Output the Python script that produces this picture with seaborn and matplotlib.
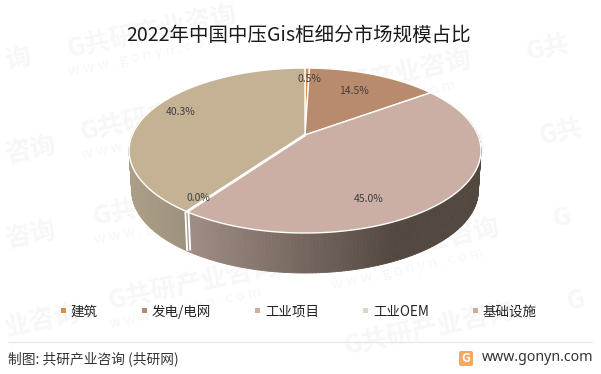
import numpy as np
import matplotlib
matplotlib.use('Agg')
import matplotlib.pyplot as plt
from matplotlib.collections import PolyCollection
from matplotlib.patches import FancyBboxPatch, Patch, Polygon
from matplotlib.colors import to_rgb
import seaborn as sns

title = '2022年中国中压Gis柜细分市场规模占比'
categories = ['建筑', '发电/电网', '工业项目', '工业OEM', '基础设施']
shares = [0.5, 14.5, 45.0, 0.0, 40.3]
slice_colors = ['#d58f4e', '#b98b6d', '#cbafa4', '#ddd5c8', '#c5b295']

# label placement in picture pixels, labels are hand placed in the original
label_x = [309, 353.5, 368.5, 198, 181]
label_y = [79, 91, 199, 198, 112]

# watermark pieces: x, y of the left end, visible part of the text, with web line or not
marks = [(67, 50, 'G共研产业咨询', True), (80, 133, 'G共研产业咨询', True),
         (93, 218, 'G共研产业咨询', True), (108, 302, 'G共研产业咨询', True),
         (302, 95, 'G共研产业咨询', True), (316, 179, 'G共研产业咨询', True),
         (330, 263, 'G共研产业咨询', True), (344, 347, 'G共研产业咨询', False),
         (527, 53, 'G共', False), (540, 137, 'G共', False),
         (553, 220, 'G', False), (567, 303, 'G', False),
         (5, 62, '询', False), (5, 156, '咨询', False), (5, 241, '咨询', False),
         (5, 329, '业咨询', False)]

sns.set_theme(style='white')
plt.rcParams['font.family'] = ['Noto Sans CJK SC', 'DejaVu Sans']

fig = plt.figure(figsize=(6.01, 3.74), dpi=100)
ax = fig.add_axes([0, 0, 1, 1])

# the pie gives the slice angles, it is redrawn below with perspective
palette = sns.color_palette(slice_colors)
wedges, _ = ax.pie(shares, startangle=90, counterclock=False, colors=palette)
angles = [(w.theta1, w.theta2) for w in wedges]
for w in wedges:
    w.remove()
ax.set_aspect('auto')
ax.set_xlim(0, 601)
ax.set_ylim(374, 0)
ax.axis('off')


def project(deg, r=1.0, drop=0.0, shrink=1.0):
    # unit circle to picture pixels, the far side is squeezed
    t = np.radians(deg)
    X = r * np.cos(t)
    Y = r * np.sin(t)
    d = 1 + 0.188 * Y
    return 305 + shrink * 172.8 * X / d, (135 - 54.2 * Y) / d + drop


def mix(c1, c2, f):
    c1, c2 = np.array(to_rgb(c1)), np.array(to_rgb(c2))
    return tuple(c1 + (c2 - c1) * np.clip(f, 0, 1))


# watermark
for x0, y0, txt, web in marks:
    ax.text(x0, y0, txt, fontsize=18.5, fontweight='bold', color='#f7f7f7', rotation=12,
            ha='left', va='center', rotation_mode='anchor', zorder=0)
    if web:
        ax.text(x0 + 2, y0 + 22, 'w w w . g o n y n . c o m', fontsize=10.5, color='#f7f7f7',
                rotation=12, ha='left', va='center', rotation_mode='anchor', zorder=0)

# side wall, colour runs along x inside each visible slice
side_drop = 40
low = 0.985
split = angles[3][0]
quads, quad_colors = [], []
for a in np.arange(15, -205, -1.0):
    x1, y1 = project(a)
    x2, y2 = project(a - 1)
    x3, y3 = project(a - 1, drop=side_drop, shrink=low)
    x4, y4 = project(a, drop=side_drop, shrink=low)
    quads.append([(x1, y1), (x2, y2), (x3, y3), (x4, y4)])
    xm = (x1 + x2) / 2
    if a > split:
        quad_colors.append(mix('#a08d85', '#524840', (xm - 190) / 205))
    else:
        quad_colors.append(mix('#ac9f87', '#9e917c', (xm - 129) / 58))
ax.add_collection(PolyCollection(quads, facecolors=quad_colors, edgecolors=quad_colors,
                                 linewidths=0.6, zorder=2))

# double white line on the wall where the empty slice sits
x1, y1 = project(split)
x2, y2 = project(split, drop=side_drop - 1, shrink=low)
ax.plot([x1, x2], [y1, y2], color='white', lw=3.6, zorder=3, solid_capstyle='butt')
ax.plot([x1, x2], [y1, y2], color='#a89a90', lw=0.9, zorder=3, solid_capstyle='butt')

# top face
cx, cy = project(0, r=0)
for (t1, t2), col in zip(angles, palette):
    th = np.linspace(t1, t2, max(int(t2 - t1) * 2, 2))
    px, py = project(th)
    pts = np.column_stack([np.r_[cx, px], np.r_[cy, py]])
    ax.add_patch(Polygon(pts, closed=True, facecolor=col, edgecolor='white', lw=1.0,
                         joinstyle='round', zorder=4))
x1, y1 = project(split)
ax.plot([cx, x1], [cy, y1], color='white', lw=2.0, zorder=5, solid_capstyle='butt')

for lx, ly, v in zip(label_x, label_y, shares):
    ax.text(lx, ly, f'{v:.1f}%', fontsize=7.5, color='#404040', ha='center', va='center', zorder=6)

ax.text(299, 35, title, fontsize=14, color='#1a1a1a', ha='center', va='center', zorder=6)

handles = [Patch(facecolor=c, edgecolor='none') for c in palette]
ax.legend(handles, categories, ncol=5, loc='center', bbox_to_anchor=(299 / 601, 1 - 311.5 / 374),
          frameon=False, fontsize=9.7, handlelength=0.36, handleheight=0.16, handletextpad=0.35,
          columnspacing=3.29, labelcolor='#222222', borderpad=0)

# footer
ax.plot([8, 592], [342.3, 342.3], color='#e6e6e6', lw=0.8, zorder=1)
ax.text(8, 359, '制图: 共研产业咨询 (共研网)', fontsize=9.9, color='#333333', ha='left', va='center', zorder=6)
ax.add_patch(FancyBboxPatch((459, 351), 14, 15, boxstyle='round,pad=0,rounding_size=2',
                            facecolor='#f7a860', edgecolor='none', zorder=5))
ax.text(466, 358.5, 'G', fontsize=9, fontweight='bold', color='white', ha='center', va='center', zorder=6)
ax.text(482, 357.5, 'www.gonyn.com', fontsize=10.2, color='#333333', ha='left', va='center', zorder=6,
        family='Noto Sans')

fig.savefig('out.png', dpi=100)
